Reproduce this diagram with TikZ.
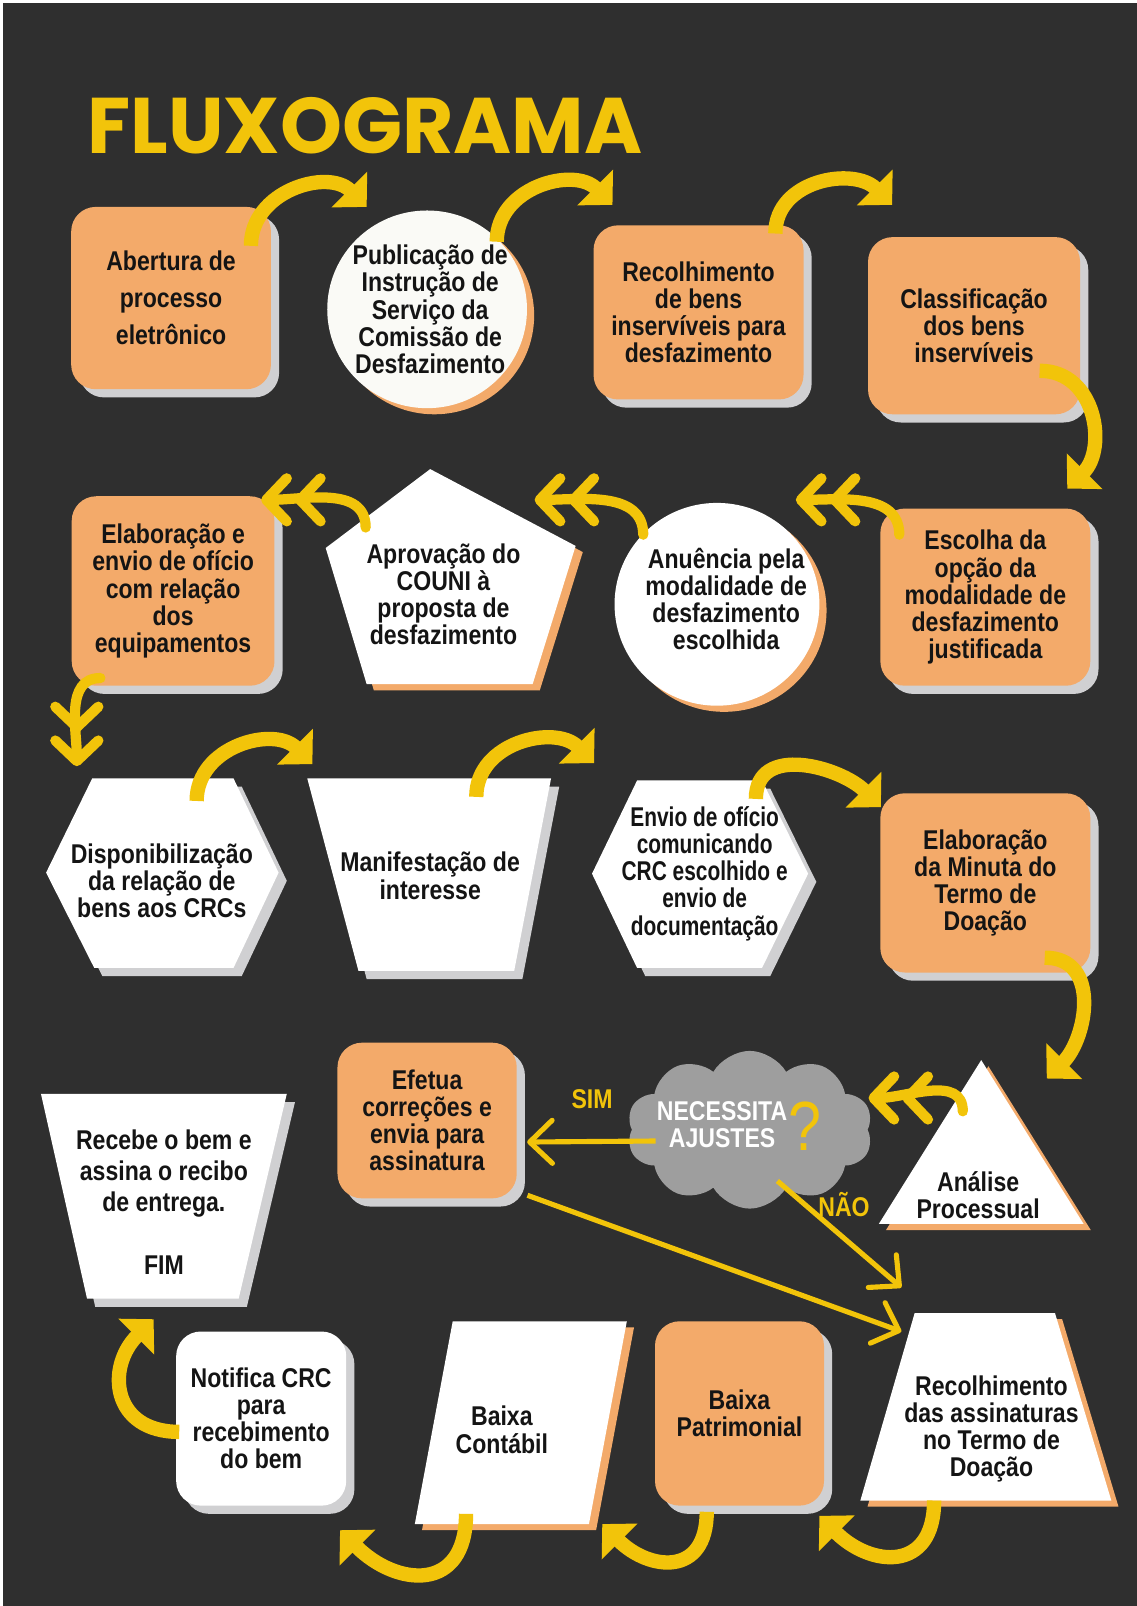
\documentclass[tikz,border=0pt]{standalone}
\usepackage{fontspec}
\setmainfont{Liberation Sans}[FakeStretch=0.85]
\newfontfamily\narrowfont{Liberation Sans}[FakeStretch=0.77]
\newfontfamily\titlefont{Poppins}
\usetikzlibrary{arrows.meta, calc, shapes.geometric, shapes.symbols, shadows}

\definecolor{bgdark}{RGB}{47,47,47}
\definecolor{flowyellow}{RGB}{242,196,10}
\definecolor{boxorange}{RGB}{243,170,106}
\definecolor{boxshade}{RGB}{208,208,210}
\definecolor{cloudgray}{RGB}{158,158,158}
\definecolor{paper}{RGB}{250,250,246}
\definecolor{ink}{RGB}{20,20,20}

\begin{document}
\begin{tikzpicture}[
  x=1pt, y=1pt,
  txt/.style={font=\bfseries\fontsize{26.5}{26.5}\selectfont, text=ink, align=center, inner sep=0pt},
  grayshade/.style={drop shadow={shadow xshift=8pt, shadow yshift=-8pt, fill=boxshade, opacity=1}},
  orangeshade/.style={drop shadow={shadow xshift=7pt, shadow yshift=-6pt, fill=boxorange, opacity=1}},
  stepbox/.style={txt, rectangle, rounded corners=24pt, fill=boxorange, grayshade},
  oval/.style={ellipse, fill=white, inner sep=0pt, orangeshade},
  plate/.style={fill=white},
  arc/.style={line width=14pt, draw=flowyellow, -{Triangle[length=24pt, width=48pt]}},
  back/.style={line width=10pt, draw=flowyellow, line cap=round,
    -{Straight Barb[length=20pt, width=42pt, round, sep=3pt] Straight Barb[length=20pt, width=42pt, round]}},
  link/.style={line width=5pt, draw=flowyellow, -{Straight Barb[length=22pt, width=42pt, round]}}
]
  % Page and background
  \useasboundingbox (0,0) rectangle (1110,-1568);
  \fill[white] (0,0) rectangle (1110,-1568);
  \fill[bgdark] (3,-3) rectangle (1110,-1568);

  % Title
  \node[font=\titlefont\bfseries\fontsize{77}{77}\selectfont, text=flowyellow, anchor=base west, inner sep=0pt]
    (title) at (85,-150) {FLUXOGRAMA};

  % Orange cards
  \node[stepbox, minimum width=195pt, minimum height=178pt, font=\bfseries\fontsize{26.5}{36}\selectfont]
    (abertura) at (167,-291) {Abertura de\\processo\\eletrônico};
  \node[stepbox, minimum width=205pt, minimum height=170pt] (recolhimento) at (682,-305) {Recolhimento\\de bens\\inservíveis para\\desfazimento};
  \node[stepbox, minimum width=207pt, minimum height=173pt] (classificacao) at (951,-318) {Classificação\\dos bens\\inservíveis};
  \node[stepbox, minimum width=205pt, minimum height=173pt] (escolha) at (962,-583) {Escolha da\\opção da\\modalidade de\\desfazimento\\justificada};
  \node[stepbox, minimum width=198pt, minimum height=185pt] (oficio) at (169,-577) {Elaboração e\\envio de ofício\\com relação\\dos\\equipamentos};
  \node[stepbox, minimum width=205pt, minimum height=175pt] (minuta) at (962,-862) {Elaboração\\da Minuta do\\Termo de\\Doação};
  \node[stepbox, minimum width=175pt, minimum height=152pt] (efetua) at (417,-1094) {Efetua\\correções e\\envia para\\assinatura};
  \node[stepbox, minimum width=165pt, minimum height=180pt] (patrimonial) at (722,-1380) {Baixa\\Patrimonial};
  \node[stepbox, fill=white, minimum width=166pt, minimum height=170pt] (notifica) at (255,-1385) {Notifica CRC\\para\\recebimento\\do bem};

  % Ovals
  \node[oval, fill=paper, minimum width=195pt, minimum height=193pt] (publicacao) at (417,-302) {};
  \node[txt] (publicacao-t) at (420,-302) {Publicação de\\Instrução de\\Serviço da\\Comissão de\\Desfazimento};
  \node[oval, minimum width=200pt, minimum height=198pt] (anuencia) at (700,-590) {};
  \node[txt] (anuencia-t) at (709,-585) {Anuência pela\\modalidade de\\desfazimento\\escolhida};

  % White plates
  \path[plate, orangeshade] (420,-458) -- (562,-533) -- (520,-668) -- (358,-668) -- (318,-535) -- cycle;
  \node[txt] (aprovacao) at (433,-580) {Aprovação do\\COUNI à\\proposta de\\desfazimento};

  \path[plate, grayshade] (45,-852) -- (90,-760) -- (228,-760) -- (272,-852) -- (228,-945) -- (92,-945) -- cycle;
  \node[txt] (disponib) at (158,-860) {Disponibilização\\da relação de\\bens aos CRCs};

  \path[plate, grayshade] (300,-760) -- (538,-760) -- (502,-948) -- (350,-948) -- cycle;
  \node[txt] (manifestacao) at (420,-855) {Manifestação de\\interesse};

  \path[plate, grayshade] (578,-853) -- (622,-762) -- (744,-762) -- (789,-853) -- (744,-945) -- (622,-945) -- cycle;
  \node[txt, font=\narrowfont\bfseries\fontsize{26.5}{26.5}\selectfont] (envio) at (688,-853)
    {Envio de ofício\\comunicando\\CRC escolhido e\\envio de\\documentação};

  \path[plate, orangeshade] (958,-1035) -- (1058,-1195) -- (858,-1195) -- cycle;
  \node[txt] (analise) at (955,-1167) {Análise\\Processual};

  \path[plate, grayshade] (40,-1068) -- (280,-1068) -- (233,-1268) -- (85,-1268) -- cycle;
  \node[txt, font=\bfseries\fontsize{26.5}{30}\selectfont] (recebe) at (160,-1174) {Recebe o bem e\\assina o recibo\\de entrega.\\[32pt]FIM};

  \path[plate, orangeshade] (893,-1282) -- (1030,-1282) -- (1085,-1465) -- (840,-1465) -- cycle;
  \node[txt] (assinaturas) at (968,-1395) {Recolhimento\\das assinaturas\\no Termo de\\Doação};

  \path[plate, orangeshade] (442,-1290) -- (612,-1290) -- (575,-1488) -- (405,-1488) -- cycle;
  \node[txt] (contabil) at (490,-1396) {Baixa\\Contábil};

  % Decision cloud
  \node[cloud, cloud puffs=10, cloud puff arc=120, aspect=1.6, fill=cloudgray, inner sep=0pt,
    minimum width=240pt, minimum height=154pt] (duvida) at (732,-1103) {};
  \node[txt, text=white] (duvida-t) at (705,-1098) {NECESSITA\\AJUSTES};
  \node[font=\fontsize{68}{68}\selectfont, text=flowyellow, inner sep=0pt] (duvida-q) at (786,-1100) {?};
  \node[txt, text=flowyellow] (sim) at (578,-1073) {SIM};
  \node[txt, text=flowyellow] (nao) at (824,-1176) {NÃO};

  % Arrow tips
  \coordinate (t1) at (358,-202);
  \coordinate (t2) at (598,-200);
  \coordinate (t3) at (871,-200);
  \coordinate (t4) at (1042,-477);
  \coordinate (t5) at (777,-488);
  \coordinate (t6) at (522,-488);
  \coordinate (t7) at (255,-488);
  \coordinate (t8) at (75,-748);
  \coordinate (t9) at (305,-746);
  \coordinate (t10) at (580,-745);
  \coordinate (t11) at (860,-788);
  \coordinate (t12) at (1022,-1053);
  \coordinate (t13) at (848,-1072);
  \coordinate (t14) at ($(efetua.east)+(10,-21)$);
  \coordinate (t15) at ($(assinaturas)+(-88,138)$);
  \coordinate (t16) at ($(assinaturas)+(-88,95)$);
  \coordinate (t17) at (800,-1480);
  \coordinate (t18) at (588,-1488);
  \coordinate (t19) at (332,-1494);
  \coordinate (t20) at (150,-1288);

  % Forward arcs
  \foreach \src/\dx/\dy/\o/\i/\dest in {abertura/78/51/90/135/t1, publicacao/68/66/90/135/t2,
      recolhimento/75/77/90/135/t3, disponib/34/78/90/135/t9, manifestacao/45/77/90/135/t10,
      envio/50/73/90/135/t11}
    \draw[arc] ($(\src)+(\dx,\dy)$) to[out=\o, in=\i, looseness=1.15] (\dest);
  \foreach \src/\dx/\dy/\dest in {classificacao/64/-44/t4, minuta/58/-73/t12}
    \draw[arc] ($(\src)+(\dx,\dy)$) to[out=0, in=45, looseness=1.2] (\dest);
  \foreach \src/\dx/\dy/\dest in {assinaturas/-56/-70/t17, patrimonial/-32/-96/t18, contabil/-35/-82/t19}
    \draw[arc] ($(\src)+(\dx,\dy)$) to[out=-90, in=-45, looseness=1.6] (\dest);
  \draw[arc] ($(notifica)+(-80,-13)$) to[out=180, in=225, looseness=1.5] (t20);

  % Backward arcs
  \foreach \src/\dx/\dy/\dest in {escolha/-84/61/t5, anuencia/-72/68/t6, aprovacao/-76/65/t7, analise/-15/82/t13}
    \draw[back] ($(\src)+(\dx,\dy)$) to[out=90, in=0] (\dest);
  \draw[back] ($(oficio)+(-71,-85)$) to[out=180, in=90] (t8);

  % Decision links
  \draw[link] ($(duvida)+(-92,-11)$) -- (t14);
  \draw[link] ($(duvida)+(27,-50)$) -- (t15);
  \draw[link] ($(efetua)+(98,-73)$) -- (t16);
\end{tikzpicture}
\end{document}
